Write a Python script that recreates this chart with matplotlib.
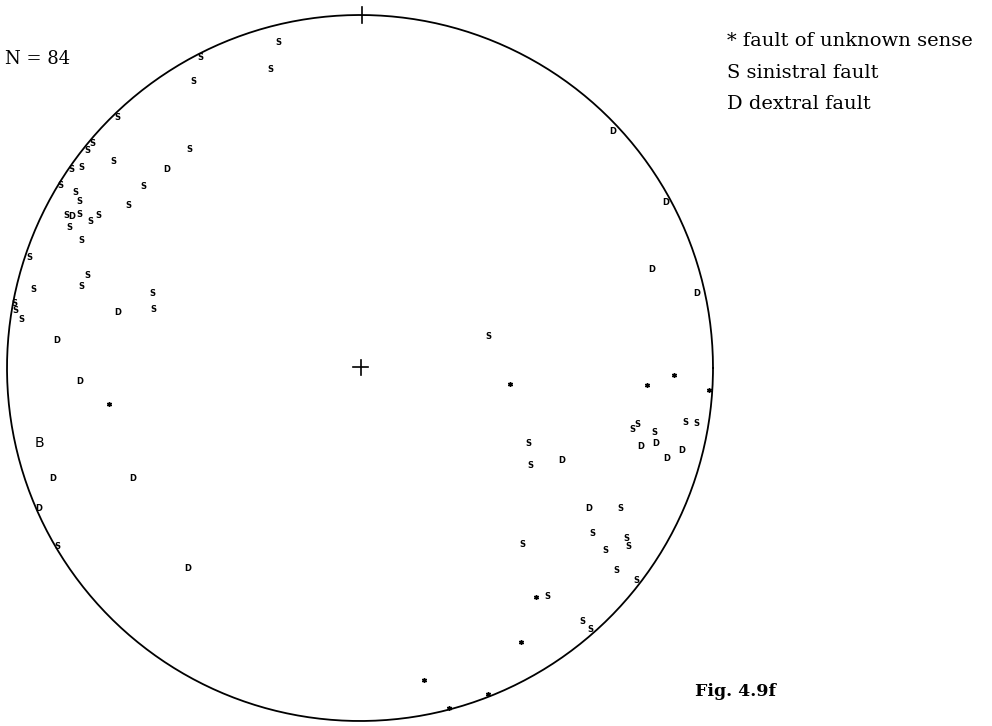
import matplotlib
matplotlib.use('Agg')
import matplotlib.pyplot as plt
import numpy as np

# fault poles on the net, east / north in units of the net radius
sinistralX = [-0.232,-0.255,-0.453,-0.473,-0.688,-0.759,-0.773,-0.482,-0.700,-0.819,
              -0.788,-0.850,-0.615,-0.805,-0.796,-0.657,-0.833,-0.796,-0.742,-0.765,
              -0.824,-0.788,-0.938,-0.773,-0.788,-0.926,-0.589,-0.980,-0.975,-0.960,
              -0.586,-0.856,0.363,0.785,0.771,0.833,0.921,0.952,0.476,0.482,
              0.737,0.657,0.754,0.759,0.694,0.459,0.725,0.782,0.530,0.629,0.652]
sinistralY = [0.921,0.847,0.881,0.813,0.711,0.635,0.615,0.618,0.584,0.561,
              0.567,0.516,0.513,0.496,0.473,0.459,0.431,0.436,0.431,0.414,
              0.399,0.360,0.312,0.263,0.232,0.221,0.212,0.184,0.162,0.138,
              0.167,-0.507,0.088,-0.159,-0.173,-0.184,-0.153,-0.156,-0.215,-0.275,
              -0.399,-0.470,-0.482,-0.507,-0.518,-0.501,-0.575,-0.601,-0.646,-0.717,-0.742]

dextralX = [-0.547,-0.816,-0.686,-0.858,-0.793,-0.870,-0.643,-0.909,-0.487,0.717,
            0.867,0.827,0.955,0.796,0.839,0.870,0.912,0.572,0.649]
dextralY = [0.561,0.428,0.156,0.079,-0.037,-0.312,-0.314,-0.397,-0.567,0.669,
            0.470,0.280,0.212,-0.221,-0.215,-0.255,-0.235,-0.261,-0.399]

unknownX = [-0.711,0.425,0.813,0.890,0.989,0.499,0.456,0.181,0.363,0.252]
unknownY = [-0.102,-0.045,-0.048,-0.020,-0.062,-0.649,-0.776,-0.884,-0.924,-0.963]

# the one pole marked B
otherX = [-0.907]
otherY = [-0.212]

nPoles = 84
legendLines = ['* fault of unknown sense', 'S sinistral fault', 'D dextral fault']

W, H = 992, 726
cx, cy, rad = 360, 368, 353

fig = plt.figure(figsize=(W/100, H/100), dpi=100)
ax = fig.add_axes([(cx-rad)/W, (H-cy-rad)/H, 2*rad/W, 2*rad/H])
ax.set_xlim(-1, 1)
ax.set_ylim(-1, 1)
ax.set_aspect('equal')
ax.axis('off')

# primitive circle, north tick and centre cross
t = np.linspace(0, 2*np.pi, 400)
ax.plot(np.cos(t), np.sin(t), color='black', lw=1.3, clip_on=False)
ax.plot([0.006, 0.006], [0.978, 1.024], color='black', lw=1.2, clip_on=False)
ax.plot([-0.02, 0.022], [0.003, 0.003], color='black', lw=1.2)
ax.plot([0.003, 0.003], [-0.02, 0.023], color='black', lw=1.2)

for x, y in zip(sinistralX, sinistralY):
    ax.text(x, y, 'S', fontsize=6, fontweight='bold', family='DejaVu Sans',
            ha='center', va='center', clip_on=False)
for x, y in zip(dextralX, dextralY):
    ax.text(x, y, 'D', fontsize=6, fontweight='bold', family='DejaVu Sans',
            ha='center', va='center', clip_on=False)
for x, y in zip(otherX, otherY):
    ax.text(x, y, 'B', fontsize=10, family='DejaVu Sans',
            ha='center', va='center', clip_on=False)
ax.plot(unknownX, unknownY, linestyle='none', marker=(6, 2, 0), ms=3.5,
        mew=1.0, color='black', clip_on=False)

serif = 'DejaVu Serif'
fig.text(5/W, 1-59/H, 'N = %d' % nPoles, fontsize=13, family=serif,
         ha='left', va='center')
for i, line in enumerate(legendLines):
    fig.text(727/W, 1-(41+31.5*i)/H, line, fontsize=14, family=serif,
             ha='left', va='center')
fig.text(695/W, 1-692/H, 'Fig. 4.9f', fontsize=12.5, family=serif,
         fontweight='bold', ha='left', va='center')

plt.savefig('out.png', dpi=100)
